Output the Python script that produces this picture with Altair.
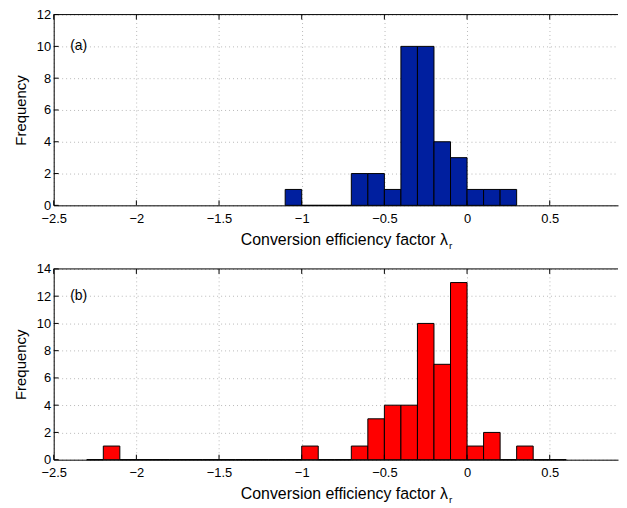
import altair as alt
import pandas as pd

# ---------------- data ----------------
bin_width = 0.1

a_bin_starts = [-1.1, -1.0, -0.9, -0.8, -0.7, -0.6, -0.5, -0.4, -0.3, -0.2, -0.1, 0.0, 0.1, 0.2]
a_counts = [1, 0, 0, 0, 2, 2, 1, 10, 10, 4, 3, 1, 1, 1]

b_bin_starts = [-2.3, -2.2, -2.1, -2.0, -1.9, -1.8, -1.7, -1.6, -1.5, -1.4, -1.3, -1.2,
                -1.1, -1.0, -0.9, -0.8, -0.7, -0.6, -0.5, -0.4, -0.3, -0.2, -0.1,
                0.0, 0.1, 0.2, 0.3, 0.4, 0.5]
b_counts = [0, 1, 0, 0, 0, 0, 0, 0, 0, 0, 0, 0,
            0, 1, 0, 0, 1, 3, 4, 4, 10, 7, 13,
            1, 2, 0, 1, 0, 0]

x_ticks = [-2.5, -2, -1.5, -1, -0.5, 0, 0.5]
a_y_ticks = [0, 2, 4, 6, 8, 10, 12]
b_y_ticks = [0, 2, 4, 6, 8, 10, 12, 14]

panel_labels = ["(a)", "(b)"]
x_title = "Conversion efficiency factor  λ"
x_title_sub = "r"
y_title = "Frequency"

# ---------------- layout / style ----------------
W, H = 568, 192
X_DOMAIN = [-2.5, 0.913]
FONT = "Liberation Sans"
BLUE = "#001f9f"
RED = "#ff0000"


def panel(starts, counts, color, yticks, label, label_y):
    df = pd.DataFrame({"start": starts, "count": counts})
    df["end"] = df["start"] + bin_width
    xs = alt.Scale(domain=X_DOMAIN, nice=False, zero=False)
    ys = alt.Scale(domain=[0, yticks[-1]], nice=False)
    xaxis = alt.Axis(values=x_ticks, format="~g", title=x_title,
                     grid=True, gridColor="#b8b8b8", gridDash=[1, 3],
                     domainColor="black", ticks=False, labelPadding=7,
                     labelFlush=False, titlePadding=6, titleX=W / 2 + 8)
    yaxis = alt.Axis(values=yticks, format="d", title=y_title,
                     grid=True, gridColor="#b8b8b8", gridDash=[1, 3],
                     domainColor="black", ticks=False, labelPadding=3,
                     titlePadding=8)

    bars = alt.Chart(df).mark_rect(color=color, stroke="black", strokeWidth=1).encode(
        x=alt.X("start:Q", scale=xs, axis=xaxis),
        x2="end:Q",
        y=alt.Y("count:Q", scale=ys, axis=yaxis),
        y2=alt.datum(0),
    )

    xt = pd.DataFrame({"start": x_ticks})
    yt = pd.DataFrame({"count": yticks})
    xtick_bottom = alt.Chart(xt).mark_rule(color="black").encode(
        x=alt.X("start:Q", scale=xs, axis=xaxis), y=alt.value(H), y2=alt.value(H - 5))
    xtick_top = alt.Chart(xt).mark_rule(color="black").encode(
        x=alt.X("start:Q", scale=xs, axis=xaxis), y=alt.value(0), y2=alt.value(5))
    ytick_left = alt.Chart(yt).mark_rule(color="black").encode(
        y=alt.Y("count:Q", scale=ys, axis=yaxis), x=alt.value(0), x2=alt.value(5))
    top_border = alt.Chart(pd.DataFrame({"v": [0]})).mark_rule(color="black").encode(
        y=alt.value(0), x=alt.value(0), x2=alt.value(W))

    lab = alt.Chart(pd.DataFrame({"start": [-2.4], "count": [label_y], "t": [label]})).mark_text(
        align="left", baseline="middle", font=FONT, fontSize=14, color="black").encode(
        x=alt.X("start:Q", scale=xs, axis=xaxis), y=alt.Y("count:Q", scale=ys, axis=yaxis),
        text="t:N")

    sub = alt.Chart(pd.DataFrame({"t": [x_title_sub]})).mark_text(
        align="left", baseline="alphabetic", font=FONT, fontSize=10, color="black").encode(
        x=alt.value(W / 2 + 114), y=alt.value(H + 44), text="t:N")

    return alt.layer(bars, xtick_bottom, xtick_top, ytick_left, top_border, lab, sub).properties(
        width=W, height=H)


pa = panel(a_bin_starts, a_counts, BLUE, a_y_ticks, panel_labels[0], 10)
pb = panel(b_bin_starts, b_counts, RED, b_y_ticks, panel_labels[1], 12)

chart = alt.vconcat(pa, pb, spacing=10).properties(
    padding={"left": 5, "top": -2, "right": 0, "bottom": 0}
).configure_view(stroke="transparent").configure_axis(
    labelFont=FONT, labelFontSize=13, labelColor="black",
    titleFont=FONT, titleFontSize=15, titleFontWeight="normal", titleColor="black",
).configure_axisX(titleFontSize=16)

chart.save("out.html", embed_options={"renderer": "svg", "actions": False})
